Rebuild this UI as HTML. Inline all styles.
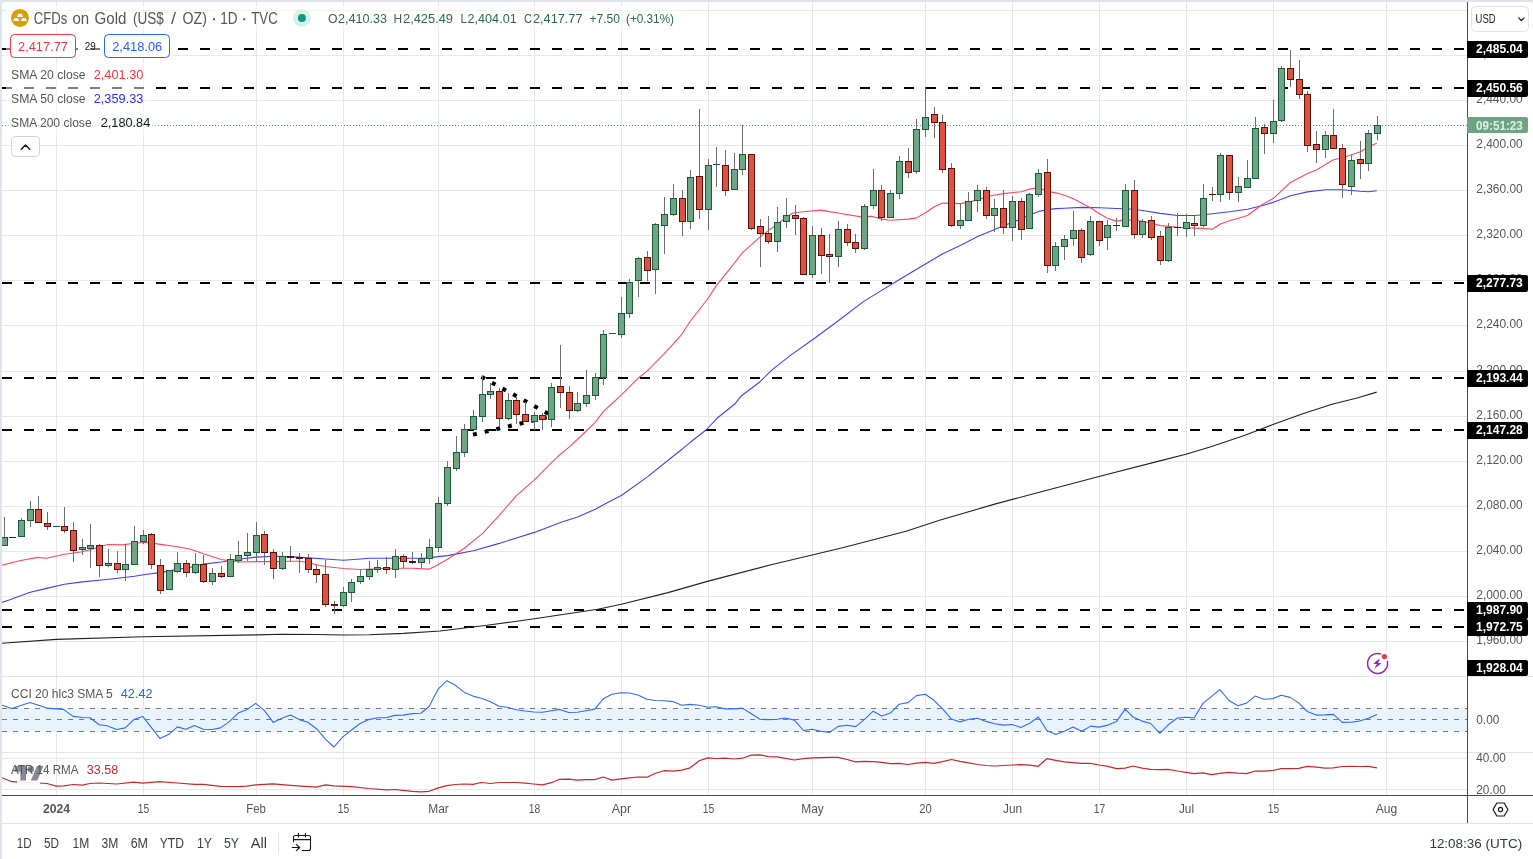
<!DOCTYPE html><html><head><meta charset="utf-8"><title>chart</title><style>html,body{margin:0;padding:0;background:#fff}body{width:1533px;height:859px;overflow:hidden}svg{display:block;will-change:transform}text{font-family:"Liberation Sans",sans-serif}</style></head><body>
<svg width="1533" height="859" viewBox="0 0 1533 859">
<rect width="1533" height="859" fill="#fff"/>
<g shape-rendering="crispEdges">
<rect x="56" y="2" width="1" height="793" fill="#e7e7e7"/>
<rect x="143" y="2" width="1" height="793" fill="#e7e7e7"/>
<rect x="256" y="2" width="1" height="793" fill="#e7e7e7"/>
<rect x="343" y="2" width="1" height="793" fill="#e7e7e7"/>
<rect x="438" y="2" width="1" height="793" fill="#e7e7e7"/>
<rect x="534" y="2" width="1" height="793" fill="#e7e7e7"/>
<rect x="621" y="2" width="1" height="793" fill="#e7e7e7"/>
<rect x="708" y="2" width="1" height="793" fill="#e7e7e7"/>
<rect x="812" y="2" width="1" height="793" fill="#e7e7e7"/>
<rect x="925" y="2" width="1" height="793" fill="#e7e7e7"/>
<rect x="1012" y="2" width="1" height="793" fill="#e7e7e7"/>
<rect x="1099" y="2" width="1" height="793" fill="#e7e7e7"/>
<rect x="1186" y="2" width="1" height="793" fill="#e7e7e7"/>
<rect x="1273" y="2" width="1" height="793" fill="#e7e7e7"/>
<rect x="1386" y="2" width="1" height="793" fill="#e7e7e7"/>
<rect x="2" y="10" width="1465" height="1" fill="#e7e7e7"/>
<rect x="2" y="55" width="1465" height="1" fill="#e7e7e7"/>
<rect x="2" y="100" width="1465" height="1" fill="#e7e7e7"/>
<rect x="2" y="145" width="1465" height="1" fill="#e7e7e7"/>
<rect x="2" y="190" width="1465" height="1" fill="#e7e7e7"/>
<rect x="2" y="235" width="1465" height="1" fill="#e7e7e7"/>
<rect x="2" y="280" width="1465" height="1" fill="#e7e7e7"/>
<rect x="2" y="325" width="1465" height="1" fill="#e7e7e7"/>
<rect x="2" y="371" width="1465" height="1" fill="#e7e7e7"/>
<rect x="2" y="416" width="1465" height="1" fill="#e7e7e7"/>
<rect x="2" y="461" width="1465" height="1" fill="#e7e7e7"/>
<rect x="2" y="506" width="1465" height="1" fill="#e7e7e7"/>
<rect x="2" y="551" width="1465" height="1" fill="#e7e7e7"/>
<rect x="2" y="596" width="1465" height="1" fill="#e7e7e7"/>
<rect x="2" y="641" width="1465" height="1" fill="#e7e7e7"/>
<rect x="2" y="758" width="1465" height="1" fill="#e7e7e7"/>
<rect x="2" y="789" width="1465" height="1" fill="#e7e7e7"/>
</g>
<rect x="2" y="708" width="1465" height="23.5" fill="#e8f3fd"/>
<line x1="2" y1="708.5" x2="1467" y2="708.5" stroke="#787b86" stroke-width="1" stroke-dasharray="5 6" shape-rendering="crispEdges"/>
<line x1="2" y1="719.5" x2="1467" y2="719.5" stroke="#787b86" stroke-width="1" stroke-dasharray="5 6" shape-rendering="crispEdges"/>
<line x1="2" y1="731.5" x2="1467" y2="731.5" stroke="#787b86" stroke-width="1" stroke-dasharray="5 6" shape-rendering="crispEdges"/>
<line x1="2" y1="49" x2="1467" y2="49" stroke="#000" stroke-width="2" stroke-dasharray="10 12" shape-rendering="crispEdges"/>
<line x1="2" y1="88" x2="1467" y2="88" stroke="#000" stroke-width="2" stroke-dasharray="10 12" shape-rendering="crispEdges"/>
<line x1="2" y1="283" x2="1467" y2="283" stroke="#000" stroke-width="2" stroke-dasharray="10 12" shape-rendering="crispEdges"/>
<line x1="2" y1="378" x2="1467" y2="378" stroke="#000" stroke-width="2" stroke-dasharray="10 12" shape-rendering="crispEdges"/>
<line x1="2" y1="430" x2="1467" y2="430" stroke="#000" stroke-width="2" stroke-dasharray="10 12" shape-rendering="crispEdges"/>
<line x1="2" y1="610" x2="1467" y2="610" stroke="#000" stroke-width="2" stroke-dasharray="10 12" shape-rendering="crispEdges"/>
<line x1="2" y1="627" x2="1467" y2="627" stroke="#000" stroke-width="2" stroke-dasharray="10 12" shape-rendering="crispEdges"/>
<line x1="2" y1="125.5" x2="1467" y2="125.5" stroke="#5f9a78" stroke-width="1" stroke-dasharray="1 2" shape-rendering="crispEdges"/>
<line x1="481.4" y1="376.8" x2="549" y2="414.2" stroke="#000" stroke-width="4" stroke-dasharray="4 8.07"/>
<line x1="473" y1="434.6" x2="547" y2="417.3" stroke="#000" stroke-width="4" stroke-dasharray="4 7.95"/>
<clipPath id="cm"><rect x="2" y="2" width="1465" height="674"/></clipPath>
<g clip-path="url(#cm)">
<polyline points="0.0,643.4 56.3,639.4 143.6,636.8 256.4,634.9 282.5,634.2 316.5,634.5 343.5,635.0 369.4,634.7 403.5,633.4 440.0,631.0 487.2,625.3 534.4,618.8 597.7,609.2 621.3,604.2 668.0,592.6 708.2,581.1 770.0,565.0 812.2,555.0 843.5,547.5 906.1,531.2 939.5,520.3 993.8,504.4 1035.6,493.2 1099.0,476.5 1160.8,460.6 1185.9,454.3 1210.9,446.8 1244.3,435.6 1273.6,424.3 1302.8,413.8 1332.0,404.2 1357.1,398.0 1376.7,392.1" fill="none" stroke="#222" stroke-width="1.1" stroke-linejoin="round" />
<polyline points="0.0,603.1 9.8,599.8 29.3,592.5 46.5,588.4 64.4,584.3 82.3,581.9 104.3,579.8 122.2,577.8 134.5,576.2 146.7,574.2 160.6,572.6 177.7,569.3 190.7,567.2 200.0,564.8 203.4,564.1 221.3,562.0 238.4,559.2 256.4,557.1 273.5,556.3 290.5,556.6 308.6,557.9 325.5,559.0 343.5,560.2 360.4,559.0 369.4,558.2 395.5,558.2 421.4,558.2 425.0,558.1 447.5,555.6 473.4,550.7 499.3,543.4 516.4,538.0 534.5,532.4 560.4,522.6 577.5,517.0 595.3,509.2 603.4,504.8 621.7,495.3 647.4,476.9 675.0,454.7 682.1,449.2 690.3,442.3 706.6,429.5 717.0,418.3 734.5,404.3 741.5,395.7 760.1,381.7 771.7,370.1 790.4,355.4 812.5,339.8 836.9,321.7 863.7,301.4 878.8,292.1 899.5,279.5 916.6,269.2 925.5,264.0 942.7,253.7 960.3,245.4 977.7,236.6 994.7,229.4 1003.5,225.8 1012.6,222.2 1021.4,218.7 1029.5,215.1 1038.6,211.5 1047.4,209.6 1055.8,208.6 1064.5,208.2 1081.5,207.4 1099.6,207.7 1116.4,208.5 1134.3,209.3 1142.5,210.5 1160.4,213.4 1177.5,215.5 1194.5,215.5 1203.5,214.7 1212.4,213.7 1229.4,211.8 1247.5,209.3 1264.6,205.0 1273.5,202.2 1290.5,195.7 1307.5,191.9 1325.5,189.8 1342.6,189.8 1360.6,191.3 1368.5,191.7 1376.8,190.7" fill="none" stroke="#4040ff" stroke-width="1.1" stroke-linejoin="round" />
<polyline points="0.0,565.6 19.6,560.7 37.5,557.4 46.5,558.2 64.4,554.2 82.3,551.7 94.5,548.5 107.6,544.5 122.2,544.9 134.5,543.2 146.7,542.3 160.6,544.4 177.7,546.8 190.7,549.3 200.0,552.5 203.4,553.8 221.3,559.5 238.4,562.0 256.4,561.6 273.5,561.6 290.5,561.3 299.4,561.2 308.6,562.5 316.5,564.7 325.5,566.5 343.5,568.5 360.4,569.5 377.5,568.8 395.5,568.2 412.4,568.2 429.4,569.1 434.8,566.6 447.5,559.3 464.3,548.3 482.4,533.6 499.3,515.3 516.4,495.7 534.5,479.9 551.3,462.8 560.4,454.2 569.4,446.9 586.3,431.0 595.3,422.4 603.4,411.4 616.0,400.0 621.4,394.8 638.7,377.7 647.0,371.1 664.4,353.7 681.8,334.3 690.1,321.5 708.3,298.0 716.3,285.6 729.3,269.7 742.5,252.6 751.3,244.8 760.3,236.7 768.4,230.6 777.4,224.0 786.5,217.2 792.8,213.0 803.3,211.8 820.9,210.1 829.5,211.6 836.9,212.7 847.2,214.6 860.8,216.7 871.5,216.3 881.6,219.1 890.4,220.3 908.3,219.1 916.6,217.9 925.5,212.7 934.3,206.7 942.7,203.1 960.3,203.6 968.4,202.4 977.7,199.6 992.1,195.5 1003.5,193.6 1021.4,191.7 1029.5,189.1 1038.6,187.6 1047.4,191.2 1055.8,192.9 1059.8,193.8 1064.6,195.3 1073.5,198.7 1090.4,207.7 1099.6,213.7 1107.4,218.3 1116.4,221.1 1125.3,219.9 1134.3,220.4 1142.5,221.2 1151.4,223.2 1160.4,225.6 1168.6,226.4 1177.5,227.2 1186.5,227.7 1194.5,228.1 1203.5,228.4 1212.4,229.2 1220.4,224.0 1229.4,220.7 1238.5,218.3 1247.5,215.5 1261.6,205.0 1273.5,198.3 1290.5,182.4 1307.5,173.5 1316.4,170.0 1333.5,159.7 1342.6,157.7 1351.5,154.7 1360.6,151.8 1368.5,146.8 1376.8,143.3" fill="none" stroke="#fa4a60" stroke-width="1.1" stroke-linejoin="round" />
</g>
<g shape-rendering="crispEdges">
<rect x="4" y="517" width="1" height="29" fill="#6e6e70"/>
<rect x="1" y="537" width="7" height="9" fill="#1e5937"/>
<rect x="2" y="538" width="5" height="7" fill="#6ea584"/>
<rect x="12" y="537" width="1" height="1" fill="#6e6e70"/>
<rect x="9" y="537" width="7" height="1" fill="#5c110d"/>
<rect x="21" y="518" width="1" height="19" fill="#6e6e70"/>
<rect x="18" y="520" width="7" height="17" fill="#1e5937"/>
<rect x="19" y="521" width="5" height="15" fill="#6ea584"/>
<rect x="30" y="501" width="1" height="26" fill="#6e6e70"/>
<rect x="27" y="509" width="7" height="12" fill="#1e5937"/>
<rect x="28" y="510" width="5" height="10" fill="#6ea584"/>
<rect x="38" y="496" width="1" height="27" fill="#6e6e70"/>
<rect x="35" y="509" width="7" height="14" fill="#5c110d"/>
<rect x="36" y="510" width="5" height="12" fill="#d95442"/>
<rect x="47" y="512" width="1" height="18" fill="#6e6e70"/>
<rect x="44" y="523" width="7" height="4" fill="#5c110d"/>
<rect x="45" y="524" width="5" height="2" fill="#d95442"/>
<rect x="56" y="526" width="1" height="1" fill="#6e6e70"/>
<rect x="53" y="526" width="7" height="1" fill="#1e5937"/>
<rect x="64" y="507" width="1" height="26" fill="#6e6e70"/>
<rect x="61" y="526" width="7" height="5" fill="#5c110d"/>
<rect x="62" y="527" width="5" height="3" fill="#d95442"/>
<rect x="73" y="522" width="1" height="40" fill="#6e6e70"/>
<rect x="70" y="530" width="7" height="21" fill="#5c110d"/>
<rect x="71" y="531" width="5" height="19" fill="#d95442"/>
<rect x="82" y="539" width="1" height="16" fill="#6e6e70"/>
<rect x="79" y="547" width="7" height="3" fill="#1e5937"/>
<rect x="80" y="548" width="5" height="1" fill="#6ea584"/>
<rect x="90" y="524" width="1" height="44" fill="#6e6e70"/>
<rect x="87" y="545" width="7" height="4" fill="#1e5937"/>
<rect x="88" y="546" width="5" height="2" fill="#6ea584"/>
<rect x="99" y="544" width="1" height="33" fill="#6e6e70"/>
<rect x="96" y="545" width="7" height="21" fill="#5c110d"/>
<rect x="97" y="546" width="5" height="19" fill="#d95442"/>
<rect x="108" y="549" width="1" height="18" fill="#6e6e70"/>
<rect x="105" y="563" width="7" height="3" fill="#1e5937"/>
<rect x="106" y="564" width="5" height="1" fill="#6ea584"/>
<rect x="117" y="551" width="1" height="22" fill="#6e6e70"/>
<rect x="114" y="563" width="7" height="7" fill="#5c110d"/>
<rect x="115" y="564" width="5" height="5" fill="#d95442"/>
<rect x="125" y="544" width="1" height="37" fill="#6e6e70"/>
<rect x="122" y="564" width="7" height="6" fill="#1e5937"/>
<rect x="123" y="565" width="5" height="4" fill="#6ea584"/>
<rect x="134" y="526" width="1" height="39" fill="#6e6e70"/>
<rect x="131" y="541" width="7" height="24" fill="#1e5937"/>
<rect x="132" y="542" width="5" height="22" fill="#6ea584"/>
<rect x="143" y="530" width="1" height="14" fill="#6e6e70"/>
<rect x="140" y="535" width="7" height="7" fill="#1e5937"/>
<rect x="141" y="536" width="5" height="5" fill="#6ea584"/>
<rect x="151" y="533" width="1" height="36" fill="#6e6e70"/>
<rect x="148" y="534" width="7" height="31" fill="#5c110d"/>
<rect x="149" y="535" width="5" height="29" fill="#d95442"/>
<rect x="160" y="559" width="1" height="35" fill="#6e6e70"/>
<rect x="157" y="565" width="7" height="26" fill="#5c110d"/>
<rect x="158" y="566" width="5" height="24" fill="#d95442"/>
<rect x="169" y="570" width="1" height="20" fill="#6e6e70"/>
<rect x="166" y="570" width="7" height="20" fill="#1e5937"/>
<rect x="167" y="571" width="5" height="18" fill="#6ea584"/>
<rect x="177" y="552" width="1" height="21" fill="#6e6e70"/>
<rect x="174" y="563" width="7" height="9" fill="#1e5937"/>
<rect x="175" y="564" width="5" height="7" fill="#6ea584"/>
<rect x="186" y="560" width="1" height="17" fill="#6e6e70"/>
<rect x="183" y="563" width="7" height="10" fill="#5c110d"/>
<rect x="184" y="564" width="5" height="8" fill="#d95442"/>
<rect x="195" y="553" width="1" height="21" fill="#6e6e70"/>
<rect x="192" y="564" width="7" height="9" fill="#1e5937"/>
<rect x="193" y="565" width="5" height="7" fill="#6ea584"/>
<rect x="203" y="555" width="1" height="28" fill="#6e6e70"/>
<rect x="200" y="564" width="7" height="18" fill="#5c110d"/>
<rect x="201" y="565" width="5" height="16" fill="#d95442"/>
<rect x="212" y="568" width="1" height="17" fill="#6e6e70"/>
<rect x="209" y="573" width="7" height="9" fill="#1e5937"/>
<rect x="210" y="574" width="5" height="7" fill="#6ea584"/>
<rect x="221" y="566" width="1" height="12" fill="#6e6e70"/>
<rect x="218" y="573" width="7" height="4" fill="#5c110d"/>
<rect x="219" y="574" width="5" height="2" fill="#d95442"/>
<rect x="230" y="554" width="1" height="23" fill="#6e6e70"/>
<rect x="227" y="559" width="7" height="18" fill="#1e5937"/>
<rect x="228" y="560" width="5" height="16" fill="#6ea584"/>
<rect x="238" y="541" width="1" height="22" fill="#6e6e70"/>
<rect x="235" y="555" width="7" height="6" fill="#1e5937"/>
<rect x="236" y="556" width="5" height="4" fill="#6ea584"/>
<rect x="247" y="533" width="1" height="28" fill="#6e6e70"/>
<rect x="244" y="552" width="7" height="4" fill="#1e5937"/>
<rect x="245" y="553" width="5" height="2" fill="#6ea584"/>
<rect x="256" y="522" width="1" height="40" fill="#6e6e70"/>
<rect x="253" y="535" width="7" height="18" fill="#1e5937"/>
<rect x="254" y="536" width="5" height="16" fill="#6ea584"/>
<rect x="264" y="531" width="1" height="34" fill="#6e6e70"/>
<rect x="261" y="534" width="7" height="19" fill="#5c110d"/>
<rect x="262" y="535" width="5" height="17" fill="#d95442"/>
<rect x="273" y="549" width="1" height="30" fill="#6e6e70"/>
<rect x="270" y="552" width="7" height="17" fill="#5c110d"/>
<rect x="271" y="553" width="5" height="15" fill="#d95442"/>
<rect x="282" y="552" width="1" height="18" fill="#6e6e70"/>
<rect x="279" y="556" width="7" height="13" fill="#1e5937"/>
<rect x="280" y="557" width="5" height="11" fill="#6ea584"/>
<rect x="290" y="546" width="1" height="16" fill="#6e6e70"/>
<rect x="287" y="556" width="7" height="2" fill="#5c110d"/>
<rect x="299" y="553" width="1" height="20" fill="#6e6e70"/>
<rect x="296" y="557" width="7" height="2" fill="#5c110d"/>
<rect x="308" y="554" width="1" height="19" fill="#6e6e70"/>
<rect x="305" y="558" width="7" height="12" fill="#5c110d"/>
<rect x="306" y="559" width="5" height="10" fill="#d95442"/>
<rect x="316" y="565" width="1" height="18" fill="#6e6e70"/>
<rect x="313" y="569" width="7" height="6" fill="#5c110d"/>
<rect x="314" y="570" width="5" height="4" fill="#d95442"/>
<rect x="325" y="560" width="1" height="47" fill="#6e6e70"/>
<rect x="322" y="574" width="7" height="31" fill="#5c110d"/>
<rect x="323" y="575" width="5" height="29" fill="#d95442"/>
<rect x="334" y="601" width="1" height="13" fill="#6e6e70"/>
<rect x="331" y="604" width="7" height="2" fill="#5c110d"/>
<rect x="343" y="587" width="1" height="20" fill="#6e6e70"/>
<rect x="340" y="592" width="7" height="14" fill="#1e5937"/>
<rect x="341" y="593" width="5" height="12" fill="#6ea584"/>
<rect x="351" y="579" width="1" height="23" fill="#6e6e70"/>
<rect x="348" y="582" width="7" height="11" fill="#1e5937"/>
<rect x="349" y="583" width="5" height="9" fill="#6ea584"/>
<rect x="360" y="570" width="1" height="14" fill="#6e6e70"/>
<rect x="357" y="576" width="7" height="6" fill="#1e5937"/>
<rect x="358" y="577" width="5" height="4" fill="#6ea584"/>
<rect x="369" y="561" width="1" height="19" fill="#6e6e70"/>
<rect x="366" y="569" width="7" height="8" fill="#1e5937"/>
<rect x="367" y="570" width="5" height="6" fill="#6ea584"/>
<rect x="377" y="560" width="1" height="13" fill="#6e6e70"/>
<rect x="374" y="567" width="7" height="3" fill="#1e5937"/>
<rect x="375" y="568" width="5" height="1" fill="#6ea584"/>
<rect x="386" y="557" width="1" height="17" fill="#6e6e70"/>
<rect x="383" y="567" width="7" height="3" fill="#5c110d"/>
<rect x="384" y="568" width="5" height="1" fill="#d95442"/>
<rect x="395" y="549" width="1" height="29" fill="#6e6e70"/>
<rect x="392" y="556" width="7" height="14" fill="#1e5937"/>
<rect x="393" y="557" width="5" height="12" fill="#6ea584"/>
<rect x="403" y="554" width="1" height="14" fill="#6e6e70"/>
<rect x="400" y="556" width="7" height="6" fill="#5c110d"/>
<rect x="401" y="557" width="5" height="4" fill="#d95442"/>
<rect x="412" y="552" width="1" height="12" fill="#6e6e70"/>
<rect x="409" y="561" width="7" height="2" fill="#5c110d"/>
<rect x="421" y="553" width="1" height="15" fill="#6e6e70"/>
<rect x="418" y="558" width="7" height="5" fill="#1e5937"/>
<rect x="419" y="559" width="5" height="3" fill="#6ea584"/>
<rect x="429" y="539" width="1" height="25" fill="#6e6e70"/>
<rect x="426" y="547" width="7" height="12" fill="#1e5937"/>
<rect x="427" y="548" width="5" height="10" fill="#6ea584"/>
<rect x="438" y="497" width="1" height="55" fill="#6e6e70"/>
<rect x="435" y="503" width="7" height="45" fill="#1e5937"/>
<rect x="436" y="504" width="5" height="43" fill="#6ea584"/>
<rect x="447" y="461" width="1" height="45" fill="#6e6e70"/>
<rect x="444" y="467" width="7" height="37" fill="#1e5937"/>
<rect x="445" y="468" width="5" height="35" fill="#6ea584"/>
<rect x="456" y="436" width="1" height="35" fill="#6e6e70"/>
<rect x="453" y="452" width="7" height="17" fill="#1e5937"/>
<rect x="454" y="453" width="5" height="15" fill="#6ea584"/>
<rect x="464" y="424" width="1" height="33" fill="#6e6e70"/>
<rect x="461" y="429" width="7" height="24" fill="#1e5937"/>
<rect x="462" y="430" width="5" height="22" fill="#6ea584"/>
<rect x="473" y="410" width="1" height="20" fill="#6e6e70"/>
<rect x="470" y="416" width="7" height="14" fill="#1e5937"/>
<rect x="471" y="417" width="5" height="12" fill="#6ea584"/>
<rect x="482" y="375" width="1" height="47" fill="#6e6e70"/>
<rect x="479" y="394" width="7" height="23" fill="#1e5937"/>
<rect x="480" y="395" width="5" height="21" fill="#6ea584"/>
<rect x="490" y="383" width="1" height="16" fill="#6e6e70"/>
<rect x="487" y="391" width="7" height="4" fill="#1e5937"/>
<rect x="488" y="392" width="5" height="2" fill="#6ea584"/>
<rect x="499" y="388" width="1" height="39" fill="#6e6e70"/>
<rect x="496" y="391" width="7" height="28" fill="#5c110d"/>
<rect x="497" y="392" width="5" height="26" fill="#d95442"/>
<rect x="508" y="393" width="1" height="27" fill="#6e6e70"/>
<rect x="505" y="400" width="7" height="19" fill="#1e5937"/>
<rect x="506" y="401" width="5" height="17" fill="#6ea584"/>
<rect x="516" y="397" width="1" height="27" fill="#6e6e70"/>
<rect x="513" y="400" width="7" height="15" fill="#5c110d"/>
<rect x="514" y="401" width="5" height="13" fill="#d95442"/>
<rect x="525" y="402" width="1" height="20" fill="#6e6e70"/>
<rect x="522" y="414" width="7" height="8" fill="#5c110d"/>
<rect x="523" y="415" width="5" height="6" fill="#d95442"/>
<rect x="534" y="412" width="1" height="18" fill="#6e6e70"/>
<rect x="531" y="415" width="7" height="7" fill="#1e5937"/>
<rect x="532" y="416" width="5" height="5" fill="#6ea584"/>
<rect x="542" y="413" width="1" height="17" fill="#6e6e70"/>
<rect x="539" y="415" width="7" height="5" fill="#5c110d"/>
<rect x="540" y="416" width="5" height="3" fill="#d95442"/>
<rect x="551" y="383" width="1" height="44" fill="#6e6e70"/>
<rect x="548" y="387" width="7" height="33" fill="#1e5937"/>
<rect x="549" y="388" width="5" height="31" fill="#6ea584"/>
<rect x="560" y="345" width="1" height="63" fill="#6e6e70"/>
<rect x="557" y="386" width="7" height="7" fill="#5c110d"/>
<rect x="558" y="387" width="5" height="5" fill="#d95442"/>
<rect x="569" y="386" width="1" height="33" fill="#6e6e70"/>
<rect x="566" y="392" width="7" height="19" fill="#5c110d"/>
<rect x="567" y="393" width="5" height="17" fill="#d95442"/>
<rect x="577" y="392" width="1" height="20" fill="#6e6e70"/>
<rect x="574" y="403" width="7" height="8" fill="#1e5937"/>
<rect x="575" y="404" width="5" height="6" fill="#6ea584"/>
<rect x="586" y="370" width="1" height="37" fill="#6e6e70"/>
<rect x="583" y="395" width="7" height="9" fill="#1e5937"/>
<rect x="584" y="396" width="5" height="7" fill="#6ea584"/>
<rect x="595" y="373" width="1" height="27" fill="#6e6e70"/>
<rect x="592" y="377" width="7" height="19" fill="#1e5937"/>
<rect x="593" y="378" width="5" height="17" fill="#6ea584"/>
<rect x="603" y="330" width="1" height="55" fill="#6e6e70"/>
<rect x="600" y="334" width="7" height="44" fill="#1e5937"/>
<rect x="601" y="335" width="5" height="42" fill="#6ea584"/>
<rect x="612" y="333" width="1" height="1" fill="#6e6e70"/>
<rect x="609" y="333" width="7" height="1" fill="#1e5937"/>
<rect x="621" y="297" width="1" height="41" fill="#6e6e70"/>
<rect x="618" y="313" width="7" height="22" fill="#1e5937"/>
<rect x="619" y="314" width="5" height="20" fill="#6ea584"/>
<rect x="629" y="279" width="1" height="39" fill="#6e6e70"/>
<rect x="626" y="282" width="7" height="32" fill="#1e5937"/>
<rect x="627" y="283" width="5" height="30" fill="#6ea584"/>
<rect x="638" y="257" width="1" height="40" fill="#6e6e70"/>
<rect x="635" y="258" width="7" height="23" fill="#1e5937"/>
<rect x="636" y="259" width="5" height="21" fill="#6ea584"/>
<rect x="647" y="251" width="1" height="30" fill="#6e6e70"/>
<rect x="644" y="257" width="7" height="14" fill="#5c110d"/>
<rect x="645" y="258" width="5" height="12" fill="#d95442"/>
<rect x="655" y="223" width="1" height="71" fill="#6e6e70"/>
<rect x="652" y="224" width="7" height="46" fill="#1e5937"/>
<rect x="653" y="225" width="5" height="44" fill="#6ea584"/>
<rect x="664" y="197" width="1" height="57" fill="#6e6e70"/>
<rect x="661" y="214" width="7" height="12" fill="#1e5937"/>
<rect x="662" y="215" width="5" height="10" fill="#6ea584"/>
<rect x="673" y="184" width="1" height="32" fill="#6e6e70"/>
<rect x="670" y="198" width="7" height="17" fill="#1e5937"/>
<rect x="671" y="199" width="5" height="15" fill="#6ea584"/>
<rect x="682" y="190" width="1" height="46" fill="#6e6e70"/>
<rect x="679" y="198" width="7" height="24" fill="#5c110d"/>
<rect x="680" y="199" width="5" height="22" fill="#d95442"/>
<rect x="690" y="170" width="1" height="59" fill="#6e6e70"/>
<rect x="687" y="177" width="7" height="45" fill="#1e5937"/>
<rect x="688" y="178" width="5" height="43" fill="#6ea584"/>
<rect x="699" y="109" width="1" height="110" fill="#6e6e70"/>
<rect x="696" y="176" width="7" height="34" fill="#5c110d"/>
<rect x="697" y="177" width="5" height="32" fill="#d95442"/>
<rect x="708" y="159" width="1" height="71" fill="#6e6e70"/>
<rect x="705" y="165" width="7" height="45" fill="#1e5937"/>
<rect x="706" y="166" width="5" height="43" fill="#6ea584"/>
<rect x="716" y="147" width="1" height="40" fill="#6e6e70"/>
<rect x="713" y="164" width="7" height="1" fill="#1e5937"/>
<rect x="725" y="150" width="1" height="46" fill="#6e6e70"/>
<rect x="722" y="165" width="7" height="26" fill="#5c110d"/>
<rect x="723" y="166" width="5" height="24" fill="#d95442"/>
<rect x="734" y="153" width="1" height="37" fill="#6e6e70"/>
<rect x="731" y="169" width="7" height="21" fill="#1e5937"/>
<rect x="732" y="170" width="5" height="19" fill="#6ea584"/>
<rect x="742" y="125" width="1" height="50" fill="#6e6e70"/>
<rect x="739" y="154" width="7" height="16" fill="#1e5937"/>
<rect x="740" y="155" width="5" height="14" fill="#6ea584"/>
<rect x="751" y="154" width="1" height="76" fill="#6e6e70"/>
<rect x="748" y="154" width="7" height="75" fill="#5c110d"/>
<rect x="749" y="155" width="5" height="73" fill="#d95442"/>
<rect x="760" y="219" width="1" height="48" fill="#6e6e70"/>
<rect x="757" y="226" width="7" height="8" fill="#5c110d"/>
<rect x="758" y="227" width="5" height="6" fill="#d95442"/>
<rect x="768" y="216" width="1" height="28" fill="#6e6e70"/>
<rect x="765" y="233" width="7" height="9" fill="#5c110d"/>
<rect x="766" y="234" width="5" height="7" fill="#d95442"/>
<rect x="777" y="207" width="1" height="45" fill="#6e6e70"/>
<rect x="774" y="222" width="7" height="20" fill="#1e5937"/>
<rect x="775" y="223" width="5" height="18" fill="#6ea584"/>
<rect x="786" y="198" width="1" height="30" fill="#6e6e70"/>
<rect x="783" y="215" width="7" height="7" fill="#1e5937"/>
<rect x="784" y="216" width="5" height="5" fill="#6ea584"/>
<rect x="795" y="205" width="1" height="30" fill="#6e6e70"/>
<rect x="792" y="215" width="7" height="4" fill="#5c110d"/>
<rect x="793" y="216" width="5" height="2" fill="#d95442"/>
<rect x="803" y="217" width="1" height="58" fill="#6e6e70"/>
<rect x="800" y="218" width="7" height="57" fill="#5c110d"/>
<rect x="801" y="219" width="5" height="55" fill="#d95442"/>
<rect x="812" y="226" width="1" height="52" fill="#6e6e70"/>
<rect x="809" y="235" width="7" height="40" fill="#1e5937"/>
<rect x="810" y="236" width="5" height="38" fill="#6ea584"/>
<rect x="821" y="228" width="1" height="46" fill="#6e6e70"/>
<rect x="818" y="235" width="7" height="21" fill="#5c110d"/>
<rect x="819" y="236" width="5" height="19" fill="#d95442"/>
<rect x="829" y="234" width="1" height="49" fill="#6e6e70"/>
<rect x="826" y="254" width="7" height="3" fill="#5c110d"/>
<rect x="827" y="255" width="5" height="1" fill="#d95442"/>
<rect x="838" y="221" width="1" height="46" fill="#6e6e70"/>
<rect x="835" y="229" width="7" height="28" fill="#1e5937"/>
<rect x="836" y="230" width="5" height="26" fill="#6ea584"/>
<rect x="847" y="224" width="1" height="22" fill="#6e6e70"/>
<rect x="844" y="229" width="7" height="14" fill="#5c110d"/>
<rect x="845" y="230" width="5" height="12" fill="#d95442"/>
<rect x="855" y="234" width="1" height="19" fill="#6e6e70"/>
<rect x="852" y="242" width="7" height="7" fill="#5c110d"/>
<rect x="853" y="243" width="5" height="5" fill="#d95442"/>
<rect x="864" y="204" width="1" height="46" fill="#6e6e70"/>
<rect x="861" y="206" width="7" height="43" fill="#1e5937"/>
<rect x="862" y="207" width="5" height="41" fill="#6ea584"/>
<rect x="873" y="169" width="1" height="40" fill="#6e6e70"/>
<rect x="870" y="190" width="7" height="16" fill="#1e5937"/>
<rect x="871" y="191" width="5" height="14" fill="#6ea584"/>
<rect x="881" y="185" width="1" height="36" fill="#6e6e70"/>
<rect x="878" y="190" width="7" height="28" fill="#5c110d"/>
<rect x="879" y="191" width="5" height="26" fill="#d95442"/>
<rect x="890" y="190" width="1" height="28" fill="#6e6e70"/>
<rect x="887" y="193" width="7" height="25" fill="#1e5937"/>
<rect x="888" y="194" width="5" height="23" fill="#6ea584"/>
<rect x="899" y="156" width="1" height="43" fill="#6e6e70"/>
<rect x="896" y="161" width="7" height="33" fill="#1e5937"/>
<rect x="897" y="162" width="5" height="31" fill="#6ea584"/>
<rect x="908" y="148" width="1" height="30" fill="#6e6e70"/>
<rect x="905" y="161" width="7" height="12" fill="#5c110d"/>
<rect x="906" y="162" width="5" height="10" fill="#d95442"/>
<rect x="916" y="119" width="1" height="55" fill="#6e6e70"/>
<rect x="913" y="129" width="7" height="43" fill="#1e5937"/>
<rect x="914" y="130" width="5" height="41" fill="#6ea584"/>
<rect x="925" y="87" width="1" height="50" fill="#6e6e70"/>
<rect x="922" y="117" width="7" height="13" fill="#1e5937"/>
<rect x="923" y="118" width="5" height="11" fill="#6ea584"/>
<rect x="934" y="107" width="1" height="31" fill="#6e6e70"/>
<rect x="931" y="114" width="7" height="9" fill="#5c110d"/>
<rect x="932" y="115" width="5" height="7" fill="#d95442"/>
<rect x="942" y="115" width="1" height="58" fill="#6e6e70"/>
<rect x="939" y="122" width="7" height="48" fill="#5c110d"/>
<rect x="940" y="123" width="5" height="46" fill="#d95442"/>
<rect x="951" y="163" width="1" height="64" fill="#6e6e70"/>
<rect x="948" y="168" width="7" height="58" fill="#5c110d"/>
<rect x="949" y="169" width="5" height="56" fill="#d95442"/>
<rect x="960" y="204" width="1" height="25" fill="#6e6e70"/>
<rect x="957" y="220" width="7" height="6" fill="#1e5937"/>
<rect x="958" y="221" width="5" height="4" fill="#6ea584"/>
<rect x="968" y="192" width="1" height="29" fill="#6e6e70"/>
<rect x="965" y="201" width="7" height="20" fill="#1e5937"/>
<rect x="966" y="202" width="5" height="18" fill="#6ea584"/>
<rect x="977" y="185" width="1" height="27" fill="#6e6e70"/>
<rect x="974" y="190" width="7" height="11" fill="#1e5937"/>
<rect x="975" y="191" width="5" height="9" fill="#6ea584"/>
<rect x="986" y="187" width="1" height="32" fill="#6e6e70"/>
<rect x="983" y="190" width="7" height="26" fill="#5c110d"/>
<rect x="984" y="191" width="5" height="24" fill="#d95442"/>
<rect x="994" y="199" width="1" height="33" fill="#6e6e70"/>
<rect x="991" y="208" width="7" height="8" fill="#1e5937"/>
<rect x="992" y="209" width="5" height="6" fill="#6ea584"/>
<rect x="1003" y="190" width="1" height="44" fill="#6e6e70"/>
<rect x="1000" y="208" width="7" height="20" fill="#5c110d"/>
<rect x="1001" y="209" width="5" height="18" fill="#d95442"/>
<rect x="1012" y="196" width="1" height="45" fill="#6e6e70"/>
<rect x="1009" y="201" width="7" height="27" fill="#1e5937"/>
<rect x="1010" y="202" width="5" height="25" fill="#6ea584"/>
<rect x="1021" y="198" width="1" height="42" fill="#6e6e70"/>
<rect x="1018" y="201" width="7" height="29" fill="#5c110d"/>
<rect x="1019" y="202" width="5" height="27" fill="#d95442"/>
<rect x="1029" y="193" width="1" height="36" fill="#6e6e70"/>
<rect x="1026" y="194" width="7" height="35" fill="#1e5937"/>
<rect x="1027" y="195" width="5" height="33" fill="#6ea584"/>
<rect x="1038" y="169" width="1" height="28" fill="#6e6e70"/>
<rect x="1035" y="173" width="7" height="22" fill="#1e5937"/>
<rect x="1036" y="174" width="5" height="20" fill="#6ea584"/>
<rect x="1047" y="159" width="1" height="114" fill="#6e6e70"/>
<rect x="1044" y="172" width="7" height="94" fill="#5c110d"/>
<rect x="1045" y="173" width="5" height="92" fill="#d95442"/>
<rect x="1055" y="242" width="1" height="29" fill="#6e6e70"/>
<rect x="1052" y="246" width="7" height="20" fill="#1e5937"/>
<rect x="1053" y="247" width="5" height="18" fill="#6ea584"/>
<rect x="1064" y="235" width="1" height="25" fill="#6e6e70"/>
<rect x="1061" y="239" width="7" height="8" fill="#1e5937"/>
<rect x="1062" y="240" width="5" height="6" fill="#6ea584"/>
<rect x="1073" y="211" width="1" height="35" fill="#6e6e70"/>
<rect x="1070" y="230" width="7" height="9" fill="#1e5937"/>
<rect x="1071" y="231" width="5" height="7" fill="#6ea584"/>
<rect x="1081" y="228" width="1" height="35" fill="#6e6e70"/>
<rect x="1078" y="230" width="7" height="28" fill="#5c110d"/>
<rect x="1079" y="231" width="5" height="26" fill="#d95442"/>
<rect x="1090" y="216" width="1" height="40" fill="#6e6e70"/>
<rect x="1087" y="221" width="7" height="34" fill="#1e5937"/>
<rect x="1088" y="222" width="5" height="32" fill="#6ea584"/>
<rect x="1099" y="221" width="1" height="25" fill="#6e6e70"/>
<rect x="1096" y="221" width="7" height="20" fill="#5c110d"/>
<rect x="1097" y="222" width="5" height="18" fill="#d95442"/>
<rect x="1107" y="220" width="1" height="30" fill="#6e6e70"/>
<rect x="1104" y="225" width="7" height="13" fill="#1e5937"/>
<rect x="1105" y="226" width="5" height="11" fill="#6ea584"/>
<rect x="1116" y="218" width="1" height="13" fill="#6e6e70"/>
<rect x="1113" y="225" width="7" height="1" fill="#5c110d"/>
<rect x="1125" y="184" width="1" height="43" fill="#6e6e70"/>
<rect x="1122" y="190" width="7" height="37" fill="#1e5937"/>
<rect x="1123" y="191" width="5" height="35" fill="#6ea584"/>
<rect x="1134" y="180" width="1" height="59" fill="#6e6e70"/>
<rect x="1131" y="190" width="7" height="45" fill="#5c110d"/>
<rect x="1132" y="191" width="5" height="43" fill="#d95442"/>
<rect x="1142" y="219" width="1" height="19" fill="#6e6e70"/>
<rect x="1139" y="221" width="7" height="14" fill="#1e5937"/>
<rect x="1140" y="222" width="5" height="12" fill="#6ea584"/>
<rect x="1151" y="216" width="1" height="24" fill="#6e6e70"/>
<rect x="1148" y="220" width="7" height="18" fill="#5c110d"/>
<rect x="1149" y="221" width="5" height="16" fill="#d95442"/>
<rect x="1160" y="231" width="1" height="34" fill="#6e6e70"/>
<rect x="1157" y="236" width="7" height="25" fill="#5c110d"/>
<rect x="1158" y="237" width="5" height="23" fill="#d95442"/>
<rect x="1168" y="223" width="1" height="39" fill="#6e6e70"/>
<rect x="1165" y="227" width="7" height="34" fill="#1e5937"/>
<rect x="1166" y="228" width="5" height="32" fill="#6ea584"/>
<rect x="1177" y="213" width="1" height="23" fill="#6e6e70"/>
<rect x="1174" y="227" width="7" height="1" fill="#5c110d"/>
<rect x="1186" y="214" width="1" height="23" fill="#6e6e70"/>
<rect x="1183" y="222" width="7" height="7" fill="#1e5937"/>
<rect x="1184" y="223" width="5" height="5" fill="#6ea584"/>
<rect x="1194" y="216" width="1" height="20" fill="#6e6e70"/>
<rect x="1191" y="223" width="7" height="3" fill="#5c110d"/>
<rect x="1192" y="224" width="5" height="1" fill="#d95442"/>
<rect x="1203" y="184" width="1" height="43" fill="#6e6e70"/>
<rect x="1200" y="198" width="7" height="28" fill="#1e5937"/>
<rect x="1201" y="199" width="5" height="26" fill="#6ea584"/>
<rect x="1212" y="187" width="1" height="14" fill="#6e6e70"/>
<rect x="1209" y="194" width="7" height="1" fill="#5c110d"/>
<rect x="1220" y="153" width="1" height="49" fill="#6e6e70"/>
<rect x="1217" y="155" width="7" height="40" fill="#1e5937"/>
<rect x="1218" y="156" width="5" height="38" fill="#6ea584"/>
<rect x="1229" y="155" width="1" height="45" fill="#6e6e70"/>
<rect x="1226" y="155" width="7" height="38" fill="#5c110d"/>
<rect x="1227" y="156" width="5" height="36" fill="#d95442"/>
<rect x="1238" y="177" width="1" height="25" fill="#6e6e70"/>
<rect x="1235" y="186" width="7" height="7" fill="#1e5937"/>
<rect x="1236" y="187" width="5" height="5" fill="#6ea584"/>
<rect x="1247" y="160" width="1" height="28" fill="#6e6e70"/>
<rect x="1244" y="178" width="7" height="10" fill="#1e5937"/>
<rect x="1245" y="179" width="5" height="8" fill="#6ea584"/>
<rect x="1255" y="117" width="1" height="62" fill="#6e6e70"/>
<rect x="1252" y="128" width="7" height="51" fill="#1e5937"/>
<rect x="1253" y="129" width="5" height="49" fill="#6ea584"/>
<rect x="1264" y="124" width="1" height="30" fill="#6e6e70"/>
<rect x="1261" y="127" width="7" height="7" fill="#5c110d"/>
<rect x="1262" y="128" width="5" height="5" fill="#d95442"/>
<rect x="1273" y="100" width="1" height="43" fill="#6e6e70"/>
<rect x="1270" y="121" width="7" height="13" fill="#1e5937"/>
<rect x="1271" y="122" width="5" height="11" fill="#6ea584"/>
<rect x="1281" y="66" width="1" height="56" fill="#6e6e70"/>
<rect x="1278" y="68" width="7" height="53" fill="#1e5937"/>
<rect x="1279" y="69" width="5" height="51" fill="#6ea584"/>
<rect x="1290" y="50" width="1" height="37" fill="#6e6e70"/>
<rect x="1287" y="68" width="7" height="12" fill="#5c110d"/>
<rect x="1288" y="69" width="5" height="10" fill="#d95442"/>
<rect x="1299" y="60" width="1" height="39" fill="#6e6e70"/>
<rect x="1296" y="79" width="7" height="16" fill="#5c110d"/>
<rect x="1297" y="80" width="5" height="14" fill="#d95442"/>
<rect x="1307" y="91" width="1" height="61" fill="#6e6e70"/>
<rect x="1304" y="94" width="7" height="52" fill="#5c110d"/>
<rect x="1305" y="95" width="5" height="50" fill="#d95442"/>
<rect x="1316" y="131" width="1" height="32" fill="#6e6e70"/>
<rect x="1313" y="144" width="7" height="6" fill="#5c110d"/>
<rect x="1314" y="145" width="5" height="4" fill="#d95442"/>
<rect x="1325" y="131" width="1" height="27" fill="#6e6e70"/>
<rect x="1322" y="135" width="7" height="15" fill="#1e5937"/>
<rect x="1323" y="136" width="5" height="13" fill="#6ea584"/>
<rect x="1333" y="109" width="1" height="40" fill="#6e6e70"/>
<rect x="1330" y="135" width="7" height="14" fill="#5c110d"/>
<rect x="1331" y="136" width="5" height="12" fill="#d95442"/>
<rect x="1342" y="144" width="1" height="54" fill="#6e6e70"/>
<rect x="1339" y="148" width="7" height="37" fill="#5c110d"/>
<rect x="1340" y="149" width="5" height="35" fill="#d95442"/>
<rect x="1351" y="155" width="1" height="40" fill="#6e6e70"/>
<rect x="1348" y="160" width="7" height="27" fill="#1e5937"/>
<rect x="1349" y="161" width="5" height="25" fill="#6ea584"/>
<rect x="1360" y="141" width="1" height="38" fill="#6e6e70"/>
<rect x="1357" y="159" width="7" height="5" fill="#5c110d"/>
<rect x="1358" y="160" width="5" height="3" fill="#d95442"/>
<rect x="1368" y="130" width="1" height="41" fill="#6e6e70"/>
<rect x="1365" y="133" width="7" height="31" fill="#1e5937"/>
<rect x="1366" y="134" width="5" height="29" fill="#6ea584"/>
<rect x="1377" y="116" width="1" height="24" fill="#6e6e70"/>
<rect x="1374" y="125" width="7" height="9" fill="#1e5937"/>
<rect x="1375" y="126" width="5" height="7" fill="#6ea584"/>
</g>
<clipPath id="cc"><rect x="2" y="677" width="1465" height="75"/></clipPath>
<g clip-path="url(#cc)">
<polyline points="2.1,705.2 11.7,708.4 30.0,702.4 47.0,708.1 63.4,709.4 73.1,716.4 82.2,717.5 90.0,717.7 99.2,724.8 107.0,725.8 116.9,729.5 125.2,727.9 133.9,719.6 142.7,716.4 151.3,727.4 159.9,738.4 169.6,733.9 177.4,726.9 185.8,729.2 194.4,725.6 203.5,729.2 211.9,729.5 220.5,727.9 229.6,721.4 238.2,713.1 246.6,709.7 255.7,703.4 264.3,710.4 273.2,722.4 281.8,718.3 290.4,714.9 299.3,719.6 307.9,722.2 316.5,728.7 325.4,739.1 334.0,747.0 342.6,737.1 351.5,730.0 360.1,723.5 368.7,719.6 377.6,717.7 386.2,717.7 394.8,715.4 403.0,715.1 412.2,713.6 420.8,713.3 429.1,706.5 438.3,688.8 446.9,680.7 455.2,685.1 464.4,692.4 473.0,696.1 481.3,698.2 490.5,701.8 499.1,706.3 507.4,707.3 516.5,709.7 525.2,711.0 533.5,712.0 542.6,712.3 551.3,710.7 559.6,709.4 568.7,712.5 577.3,712.3 585.7,710.7 594.8,709.1 603.4,698.7 611.8,694.3 620.9,692.7 629.5,693.0 637.9,695.0 647.0,699.2 655.6,700.5 664.0,700.8 673.1,701.6 681.7,705.2 690.1,704.4 699.2,705.2 707.8,707.3 716.2,706.8 725.3,708.9 733.9,708.9 742.3,708.1 751.4,713.8 760.0,719.3 768.3,719.6 777.5,719.3 785.3,718.0 794.4,720.1 803.5,730.5 812.1,729.2 820.4,731.3 829.6,732.4 838.2,726.4 847.1,725.3 855.7,726.6 864.3,719.6 873.2,711.2 881.8,715.9 890.4,713.1 899.2,704.2 907.9,702.6 916.5,695.6 925.3,694.3 933.9,700.3 942.6,708.9 951.4,719.1 960.0,721.9 968.6,719.3 977.5,718.3 986.1,721.4 994.7,723.8 1003.6,725.1 1012.2,724.5 1020.8,727.4 1029.7,723.2 1038.3,717.0 1046.9,730.5 1055.8,734.4 1064.4,731.3 1073.0,726.9 1081.9,731.3 1090.5,726.1 1099.1,727.1 1108.0,725.1 1116.6,721.4 1125.2,709.1 1133.0,717.0 1142.1,721.1 1150.7,723.5 1159.9,733.4 1168.2,724.8 1177.4,718.0 1186.0,717.2 1194.3,717.7 1202.9,703.4 1211.3,696.6 1219.9,689.6 1229.0,700.5 1237.9,705.7 1246.5,703.1 1255.1,696.1 1264.0,699.2 1272.6,698.7 1281.2,695.3 1290.1,697.4 1298.7,702.9 1307.3,711.5 1316.2,715.1 1324.8,714.9 1333.4,714.4 1342.3,722.4 1350.9,722.2 1359.5,721.1 1368.4,718.3 1377.0,714.4" fill="none" stroke="#2e6bff" stroke-width="1.1" stroke-linejoin="round" />
</g>
<polyline points="2.1,777.8 11.7,781.7 30.0,782.7 47.0,783.5 56.1,786.1 63.9,785.9 73.1,784.5 82.2,785.1 90.0,783.5 99.2,783.0 116.9,784.0 133.9,782.2 142.7,783.2 159.9,781.7 177.4,783.0 194.4,784.3 203.5,784.3 220.5,786.4 238.2,786.6 246.6,786.1 255.7,784.8 273.2,783.8 290.4,785.3 316.5,787.2 325.4,784.8 334.0,785.9 351.5,786.6 368.7,788.5 386.2,789.8 395.2,789.5 403.0,790.3 412.2,791.3 420.8,791.9 429.1,791.3 438.3,787.9 446.9,785.6 455.2,784.5 464.4,784.0 473.0,784.3 481.3,782.5 490.5,783.5 499.1,782.5 516.5,782.5 525.2,783.2 533.5,784.0 542.6,784.8 551.3,782.7 559.6,779.3 568.7,779.1 577.3,780.1 585.7,779.6 594.8,779.6 603.4,777.0 611.8,780.1 620.9,778.8 629.5,777.8 637.9,777.0 647.0,777.2 655.6,773.3 664.0,770.7 673.1,771.2 681.7,770.2 690.1,767.8 699.2,760.8 707.8,757.9 716.2,758.5 725.3,758.2 733.9,759.0 742.3,758.2 751.4,755.1 760.0,754.8 768.3,756.6 777.5,756.9 780.0,757.4 794.4,760.0 803.5,758.7 812.1,757.9 829.6,757.4 838.2,757.4 847.1,759.5 855.7,761.8 864.3,761.3 873.2,761.6 881.8,762.4 890.4,763.7 899.2,763.4 907.9,764.5 916.5,763.2 925.3,762.4 933.9,763.4 942.6,761.6 951.4,759.5 960.0,761.3 968.6,762.9 977.5,764.5 986.1,765.5 994.7,766.0 1003.6,765.5 1012.2,765.0 1020.8,764.7 1029.7,765.2 1038.3,766.3 1046.9,758.7 1055.8,760.3 1064.4,761.8 1073.0,762.6 1081.9,763.4 1090.5,763.4 1099.1,765.0 1108.0,766.3 1116.6,768.6 1125.2,768.1 1133.0,766.0 1142.1,768.1 1150.7,769.4 1159.9,769.7 1168.2,769.4 1177.4,771.0 1186.0,772.3 1194.3,773.6 1202.9,772.8 1211.3,774.6 1219.9,773.3 1229.0,772.3 1237.9,773.1 1246.5,773.6 1255.1,771.0 1264.0,771.2 1272.6,770.5 1281.2,768.6 1290.1,768.6 1298.7,768.4 1307.3,766.3 1316.2,767.1 1324.8,768.1 1333.4,767.8 1342.3,766.5 1350.9,766.3 1359.5,766.5 1368.4,766.3 1377.0,767.8" fill="none" stroke="#c4282d" stroke-width="1.2" stroke-linejoin="round" />
<g fill="#fff" fill-opacity="0.5">
<rect x="6" y="6" width="675" height="24"/>
<rect x="6" y="33" width="168" height="26"/>
<rect x="6" y="63" width="144" height="24"/>
<rect x="6" y="87" width="144" height="24"/>
<rect x="6" y="111" width="150" height="24"/>
</g>
<g shape-rendering="crispEdges">
<rect x="2" y="676" width="1531" height="1" fill="#e0e3eb"/>
<rect x="2" y="752" width="1531" height="1" fill="#e0e3eb"/>
<rect x="0" y="823" width="1533" height="1" fill="#e0e3eb"/>
<rect x="1467" y="2" width="1" height="821" fill="#4a4a4a"/>
<rect x="2" y="795" width="1531" height="1" fill="#4a4a4a"/>
<rect x="0" y="0" width="1533" height="2" fill="#e0e3eb"/>
<rect x="0" y="0" width="2" height="859" fill="#e0e3eb"/>
</g>
<path d="M2 2 h4 a4 4 0 0 0 -4 4 z" fill="#e0e3eb"/>
<path d="M1533 2 h-3 a3 3 0 0 1 3 3 z" fill="#e0e3eb"/>
<text x="1476.3" y="57.7" font-size="12" fill="#555" textLength="46.4" lengthAdjust="spacingAndGlyphs" >2,480.00</text>
<text x="1476.3" y="102.7" font-size="12" fill="#555" textLength="46.4" lengthAdjust="spacingAndGlyphs" >2,440.00</text>
<text x="1476.3" y="147.7" font-size="12" fill="#555" textLength="46.4" lengthAdjust="spacingAndGlyphs" >2,400.00</text>
<text x="1476.3" y="192.7" font-size="12" fill="#555" textLength="46.4" lengthAdjust="spacingAndGlyphs" >2,360.00</text>
<text x="1476.3" y="237.7" font-size="12" fill="#555" textLength="46.4" lengthAdjust="spacingAndGlyphs" >2,320.00</text>
<text x="1476.3" y="282.7" font-size="12" fill="#555" textLength="46.4" lengthAdjust="spacingAndGlyphs" >2,280.00</text>
<text x="1476.3" y="327.7" font-size="12" fill="#555" textLength="46.4" lengthAdjust="spacingAndGlyphs" >2,240.00</text>
<text x="1476.3" y="373.7" font-size="12" fill="#555" textLength="46.4" lengthAdjust="spacingAndGlyphs" >2,200.00</text>
<text x="1476.3" y="418.7" font-size="12" fill="#555" textLength="46.4" lengthAdjust="spacingAndGlyphs" >2,160.00</text>
<text x="1476.3" y="463.7" font-size="12" fill="#555" textLength="46.4" lengthAdjust="spacingAndGlyphs" >2,120.00</text>
<text x="1476.3" y="508.7" font-size="12" fill="#555" textLength="46.4" lengthAdjust="spacingAndGlyphs" >2,080.00</text>
<text x="1476.3" y="554.3000000000001" font-size="12" fill="#555" textLength="46.4" lengthAdjust="spacingAndGlyphs" >2,040.00</text>
<text x="1476.3" y="599.3000000000001" font-size="12" fill="#555" textLength="46.4" lengthAdjust="spacingAndGlyphs" >2,000.00</text>
<text x="1476.3" y="644.3000000000001" font-size="12" fill="#555" textLength="46.4" lengthAdjust="spacingAndGlyphs" >1,960.00</text>
<text x="1476.3" y="723.5" font-size="12" fill="#555" textLength="23" lengthAdjust="spacingAndGlyphs" >0.00</text>
<text x="1476.3" y="762" font-size="12" fill="#555" textLength="29.5" lengthAdjust="spacingAndGlyphs" >40.00</text>
<text x="1476.3" y="793.5" font-size="12" fill="#555" textLength="29.5" lengthAdjust="spacingAndGlyphs" >20.00</text>
<path d="M1467 41 h59 a2 2 0 0 1 2 2 v13 a2 2 0 0 1 -2 2 h-59 z" fill="#000"/>
<text x="1476" y="53.3" font-size="12" fill="#fff" font-weight="bold" textLength="46.8" lengthAdjust="spacingAndGlyphs" >2,485.04</text>
<path d="M1467 80 h59 a2 2 0 0 1 2 2 v13 a2 2 0 0 1 -2 2 h-59 z" fill="#000"/>
<text x="1476" y="92.3" font-size="12" fill="#fff" font-weight="bold" textLength="46.8" lengthAdjust="spacingAndGlyphs" >2,450.56</text>
<path d="M1467 275 h59 a2 2 0 0 1 2 2 v13 a2 2 0 0 1 -2 2 h-59 z" fill="#000"/>
<text x="1476" y="287.3" font-size="12" fill="#fff" font-weight="bold" textLength="46.8" lengthAdjust="spacingAndGlyphs" >2,277.73</text>
<path d="M1467 370 h59 a2 2 0 0 1 2 2 v13 a2 2 0 0 1 -2 2 h-59 z" fill="#000"/>
<text x="1476" y="382.3" font-size="12" fill="#fff" font-weight="bold" textLength="46.8" lengthAdjust="spacingAndGlyphs" >2,193.44</text>
<path d="M1467 422 h59 a2 2 0 0 1 2 2 v13 a2 2 0 0 1 -2 2 h-59 z" fill="#000"/>
<text x="1476" y="434.3" font-size="12" fill="#fff" font-weight="bold" textLength="46.8" lengthAdjust="spacingAndGlyphs" >2,147.28</text>
<path d="M1467 602 h59 a2 2 0 0 1 2 2 v13 a2 2 0 0 1 -2 2 h-59 z" fill="#000"/>
<text x="1476" y="614.3" font-size="12" fill="#fff" font-weight="bold" textLength="46.8" lengthAdjust="spacingAndGlyphs" >1,987.90</text>
<path d="M1467 619 h59 a2 2 0 0 1 2 2 v13 a2 2 0 0 1 -2 2 h-59 z" fill="#000"/>
<text x="1476" y="631.3" font-size="12" fill="#fff" font-weight="bold" textLength="46.8" lengthAdjust="spacingAndGlyphs" >1,972.75</text>
<path d="M1467 660 h59 a2 2 0 0 1 2 2 v12 a2 2 0 0 1 -2 2 h-59 z" fill="#000"/>
<text x="1476" y="672.3" font-size="12" fill="#fff" font-weight="bold" textLength="46.8" lengthAdjust="spacingAndGlyphs" >1,928.04</text>
<path d="M1467 117 h59 a2 2 0 0 1 2 2 v12 a2 2 0 0 1 -2 2 h-59 z" fill="#6ea283"/>
<text x="1476" y="129.5" font-size="12" fill="#dff0e6" font-weight="bold" textLength="46.8" lengthAdjust="spacingAndGlyphs" >09:51:23</text>
<rect x="1471.5" y="6.5" width="57" height="25" rx="4" fill="#fff" stroke="#e0e3eb"/>
<text x="1475.6" y="23.3" font-size="12" fill="#1c2030" textLength="20" lengthAdjust="spacingAndGlyphs" >USD</text>
<path d="M1518.7 17.8 l2.7 2.7 l2.7 -2.7" fill="none" stroke="#131722" stroke-width="1.2" stroke-linecap="round" stroke-linejoin="round"/>
<circle cx="20" cy="17.9" r="9" fill="#d89e06"/>
<g fill="#fff"><path d="M18.4 13.8 h3.2 l1.5 3.1 h-6.200 z"/><path d="M14.700 18 h3.200 l1.500 3 h-6.200 z"/><path d="M22.300 18 h3.200 l1.500 3 h-6.200 z"/></g>
<text x="33.7" y="23.8" font-size="16" fill="#555" textLength="33.5" lengthAdjust="spacingAndGlyphs" >CFDs</text>
<text x="72.4" y="23.8" font-size="16" fill="#555" textLength="16.7" lengthAdjust="spacingAndGlyphs" >on</text>
<text x="94.6" y="23.8" font-size="16" fill="#555" textLength="31.9" lengthAdjust="spacingAndGlyphs" >Gold</text>
<text x="133" y="23.8" font-size="16" fill="#555" textLength="30.7" lengthAdjust="spacingAndGlyphs" >(US$</text>
<text x="171" y="23.8" font-size="16" fill="#555" textLength="5" lengthAdjust="spacingAndGlyphs" >/</text>
<text x="182.6" y="23.8" font-size="16" fill="#555" textLength="24.4" lengthAdjust="spacingAndGlyphs" >OZ)</text>
<text x="220.3" y="23.8" font-size="16" fill="#555" textLength="17.3" lengthAdjust="spacingAndGlyphs" >1D</text>
<text x="251.3" y="23.8" font-size="16" fill="#555" textLength="26.4" lengthAdjust="spacingAndGlyphs" >TVC</text>
<rect x="213" y="18.2" width="2" height="2" fill="#555"/><rect x="243.2" y="18.2" width="2" height="2" fill="#555"/>
<circle cx="301.9" cy="18" r="9" fill="#d8f0ea"/><circle cx="301.9" cy="18" r="4" fill="#089981"/>
<text x="328" y="22.6" font-size="13" fill="#555" textLength="9.5" lengthAdjust="spacingAndGlyphs" >O</text>
<text x="338" y="22.6" font-size="13" fill="#2b6a45" textLength="49" lengthAdjust="spacingAndGlyphs" >2,410.33</text>
<text x="393.6" y="22.6" font-size="13" fill="#555" textLength="8.6" lengthAdjust="spacingAndGlyphs" >H</text>
<text x="403" y="22.6" font-size="13" fill="#2b6a45" textLength="50" lengthAdjust="spacingAndGlyphs" >2,425.49</text>
<text x="460.4" y="22.6" font-size="13" fill="#555" textLength="6.5" lengthAdjust="spacingAndGlyphs" >L</text>
<text x="467.5" y="22.6" font-size="13" fill="#2b6a45" textLength="49.2" lengthAdjust="spacingAndGlyphs" >2,404.01</text>
<text x="524" y="22.6" font-size="13" fill="#555" textLength="8" lengthAdjust="spacingAndGlyphs" >C</text>
<text x="533" y="22.6" font-size="13" fill="#2b6a45" textLength="49.5" lengthAdjust="spacingAndGlyphs" >2,417.77</text>
<text x="589.4" y="22.6" font-size="13" fill="#2b6a45" textLength="30.6" lengthAdjust="spacingAndGlyphs" >+7.50</text>
<text x="626" y="22.6" font-size="13" fill="#2b6a45" textLength="48" lengthAdjust="spacingAndGlyphs" >(+0.31%)</text>
<rect x="10.5" y="34.5" width="65" height="23" rx="4" fill="#fff" stroke="#f23645"/>
<text x="18" y="50.6" font-size="13" fill="#f23645" textLength="50" lengthAdjust="spacingAndGlyphs" >2,417.77</text>
<text x="84.8" y="50" font-size="10.5" fill="#131722" textLength="11" lengthAdjust="spacingAndGlyphs" >29</text>
<rect x="104.5" y="34.5" width="65" height="23" rx="4" fill="#fff" stroke="#2962ff"/>
<text x="112.2" y="50.6" font-size="13" fill="#2962ff" textLength="50" lengthAdjust="spacingAndGlyphs" >2,418.06</text>
<text x="11.1" y="79.3" font-size="12" fill="#555" textLength="74.5" lengthAdjust="spacingAndGlyphs" >SMA 20 close</text>
<text x="93.7" y="79.3" font-size="12" fill="#f23645" textLength="49.8" lengthAdjust="spacingAndGlyphs" >2,401.30</text>
<text x="11.1" y="103.2" font-size="12" fill="#555" textLength="74.5" lengthAdjust="spacingAndGlyphs" >SMA 50 close</text>
<text x="93.7" y="103.2" font-size="12" fill="#2d2dff" textLength="49.8" lengthAdjust="spacingAndGlyphs" >2,359.33</text>
<text x="11.1" y="127" font-size="12" fill="#555" textLength="80.5" lengthAdjust="spacingAndGlyphs" >SMA 200 close</text>
<text x="100.7" y="127" font-size="12" fill="#131722" textLength="49.6" lengthAdjust="spacingAndGlyphs" >2,180.84</text>
<rect x="11.5" y="136.5" width="28" height="20" rx="3.5" fill="#fff" stroke="#d1d4dc"/>
<path d="M21.3 149.2 l4.2 -4.2 l4.2 4.2" fill="none" stroke="#131722" stroke-width="1.5" stroke-linecap="round" stroke-linejoin="round"/>
<text x="11" y="698.3" font-size="12" fill="#555" textLength="101.7" lengthAdjust="spacingAndGlyphs" >CCI 20 hlc3 SMA 5</text>
<text x="120.8" y="698.3" font-size="12" fill="#2962ff" textLength="31.8" lengthAdjust="spacingAndGlyphs" >42.42</text>
<rect x="17" y="763" width="23" height="21" fill="#fff" fill-opacity="0.9"/>
<g transform="translate(14.66 762.76) scale(0.81)" fill="#868993"><path d="M14 22H7V11H0V4h14v18z"/><path d="M28 22h-8l7.500-18h8L28 22z"/><circle cx="20" cy="8" r="4"/></g>
<text x="11" y="774" font-size="12" fill="#555" textLength="67.5" lengthAdjust="spacingAndGlyphs" >ATR 14 RMA</text>
<text x="86.8" y="774" font-size="12" fill="#c4282d" textLength="31.5" lengthAdjust="spacingAndGlyphs" >33.58</text>
<rect x="1366" y="652" width="24" height="19" fill="#fff"/>
<path d="M1387.4 661.6 A10 10 0 1 1 1380.6 653.9" fill="none" stroke="#9522b3" stroke-width="1.5" stroke-linecap="round"/>
<path d="M1379.9 658.3 L1373.2 663.7 L1377 663.9 L1374.1 668.8 L1381.6 663.3 L1378.1 663.1 Z" fill="#9522b3"/>
<circle cx="1384.4" cy="656.5" r="2.6" fill="#f23645"/>
<text x="56.5" y="813.2" font-size="12" fill="#555" font-weight="bold" text-anchor="middle" textLength="27" lengthAdjust="spacingAndGlyphs" >2024</text>
<text x="143.5" y="813.2" font-size="12" fill="#555" text-anchor="middle" textLength="11.5" lengthAdjust="spacingAndGlyphs" >15</text>
<text x="256" y="813.2" font-size="12" fill="#555" text-anchor="middle" textLength="19.5" lengthAdjust="spacingAndGlyphs" >Feb</text>
<text x="343.5" y="813.2" font-size="12" fill="#555" text-anchor="middle" textLength="11.5" lengthAdjust="spacingAndGlyphs" >15</text>
<text x="438.5" y="813.2" font-size="12" fill="#555" text-anchor="middle" textLength="20.5" lengthAdjust="spacingAndGlyphs" >Mar</text>
<text x="534.5" y="813.2" font-size="12" fill="#555" text-anchor="middle" textLength="11.5" lengthAdjust="spacingAndGlyphs" >18</text>
<text x="621.5" y="813.2" font-size="12" fill="#555" text-anchor="middle" textLength="19.5" lengthAdjust="spacingAndGlyphs" >Apr</text>
<text x="708.5" y="813.2" font-size="12" fill="#555" text-anchor="middle" textLength="11.5" lengthAdjust="spacingAndGlyphs" >15</text>
<text x="812.5" y="813.2" font-size="12" fill="#555" text-anchor="middle" textLength="22.5" lengthAdjust="spacingAndGlyphs" >May</text>
<text x="925.5" y="813.2" font-size="12" fill="#555" text-anchor="middle" textLength="12.5" lengthAdjust="spacingAndGlyphs" >20</text>
<text x="1012.5" y="813.2" font-size="12" fill="#555" text-anchor="middle" textLength="19" lengthAdjust="spacingAndGlyphs" >Jun</text>
<text x="1099.5" y="813.2" font-size="12" fill="#555" text-anchor="middle" textLength="11.5" lengthAdjust="spacingAndGlyphs" >17</text>
<text x="1186.5" y="813.2" font-size="12" fill="#555" text-anchor="middle" textLength="15" lengthAdjust="spacingAndGlyphs" >Jul</text>
<text x="1273.5" y="813.2" font-size="12" fill="#555" text-anchor="middle" textLength="11.5" lengthAdjust="spacingAndGlyphs" >15</text>
<text x="1386.5" y="813.2" font-size="12" fill="#555" text-anchor="middle" textLength="21.5" lengthAdjust="spacingAndGlyphs" >Aug</text>
<path d="M1493.1 809.5 L1496.8 803 H1504.2 L1507.9 809.5 L1504.2 816 H1496.8 Z" fill="none" stroke="#131722" stroke-width="1.2" stroke-linejoin="round"/><circle cx="1500.5" cy="809.5" r="2.1" fill="none" stroke="#131722" stroke-width="1.2"/>
<text x="16.8" y="848" font-size="14" fill="#3a3d46" textLength="14.8" lengthAdjust="spacingAndGlyphs" >1D</text>
<text x="44" y="848" font-size="14" fill="#3a3d46" textLength="15" lengthAdjust="spacingAndGlyphs" >5D</text>
<text x="72.5" y="848" font-size="14" fill="#3a3d46" textLength="16.8" lengthAdjust="spacingAndGlyphs" >1M</text>
<text x="101.6" y="848" font-size="14" fill="#3a3d46" textLength="16.8" lengthAdjust="spacingAndGlyphs" >3M</text>
<text x="130.7" y="848" font-size="14" fill="#3a3d46" textLength="17.3" lengthAdjust="spacingAndGlyphs" >6M</text>
<text x="159.7" y="848" font-size="14" fill="#3a3d46" textLength="24.3" lengthAdjust="spacingAndGlyphs" >YTD</text>
<text x="197" y="848" font-size="14" fill="#3a3d46" textLength="15" lengthAdjust="spacingAndGlyphs" >1Y</text>
<text x="224" y="848" font-size="14" fill="#3a3d46" textLength="15" lengthAdjust="spacingAndGlyphs" >5Y</text>
<text x="250.8" y="848" font-size="14" fill="#3a3d46" textLength="16.2" lengthAdjust="spacingAndGlyphs" >All</text>
<rect x="278" y="832" width="1" height="22" fill="#e0e3eb" shape-rendering="crispEdges"/>
<path d="M293.500 841.800 V837.500 a2 2 0 0 1 2-2 H308.500 a2 2 0 0 1 2 2 V848.500 a2 2 0 0 1 -2 2 H302.300 M293.500 839.600 H310.500 M298.400 833.300 V836.900 M305.400 833.300 V836.900 M292.200 847.500 H299.700 M296.300 844.400 L299.700 847.500 L296.300 850.600" fill="none" stroke="#131722" stroke-width="1.1" stroke-linecap="round" stroke-linejoin="round"/>
<text x="1429.4" y="847.7" font-size="13" fill="#33363f" textLength="92.8" lengthAdjust="spacingAndGlyphs" >12:08:36 (UTC)</text>
</svg></body></html>
